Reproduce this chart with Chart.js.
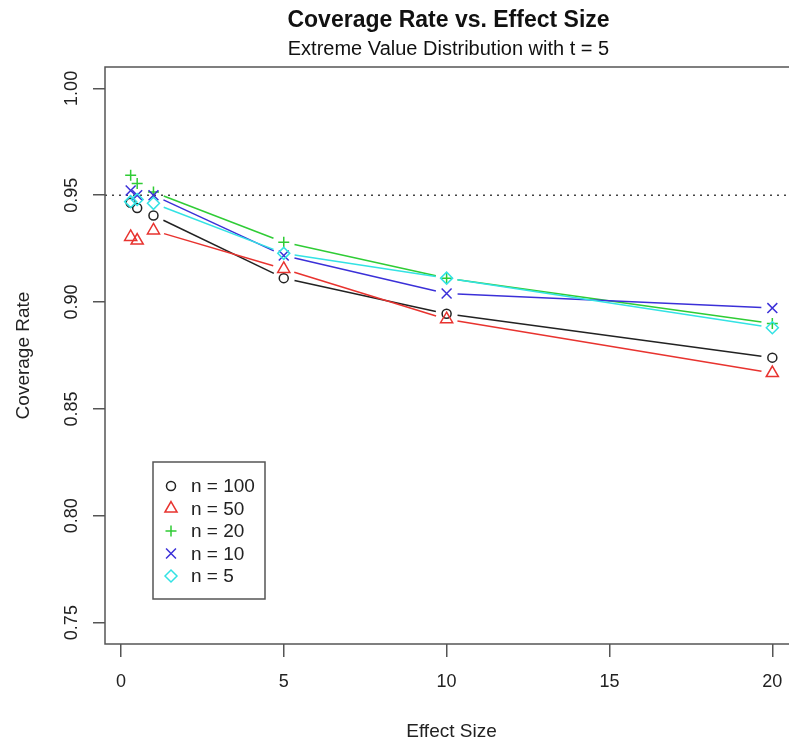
<!DOCTYPE html>
<html>
<head>
<meta charset="utf-8">
<script src="https://cdn.jsdelivr.net/npm/chart.js@4/dist/chart.umd.min.js"></script>
<style>
  html, body { margin: 0; padding: 0; background: #fff; overflow: hidden; }
  #wrap { position: relative; width: 810px; height: 746px; }
</style>
</head>
<body>
<div id="wrap"><canvas id="cov"></canvas></div>
<script>
// effect sizes and coverage rates per sample size
const effectSizes = [0.3, 0.5, 1, 5, 10, 20];
const cov100 = [0.9465, 0.9440, 0.9405, 0.9112, 0.8945, 0.8740];
const cov50  = [0.9305, 0.9288, 0.9335, 0.9155, 0.8920, 0.8668];
const cov20  = [0.9594, 0.9555, 0.9515, 0.9280, 0.9112, 0.8900];
const cov10  = [0.9522, 0.9500, 0.9500, 0.9218, 0.9040, 0.8972];
const cov5   = [0.9470, 0.9480, 0.9462, 0.9228, 0.9112, 0.8880];
const seriesLabels = ['n = 100', 'n = 50', 'n = 20', 'n = 10', 'n = 5'];
const nominal = 0.95;
const yTicks = [0.75, 0.80, 0.85, 0.90, 0.95, 1.00];
const xTicks = [0, 5, 10, 15, 20];

const FONT = '"Liberation Sans", Arial, Helvetica, sans-serif';
const AXIS = '#555';

const styles = [
  { color: '#222222', point: 'circle',   r: 4.5 },
  { color: '#e8332f', point: 'triangle', r: 7 },
  { color: '#2fcc35', point: 'cross',    r: 5.5 },
  { color: '#3b30d8', point: 'crossRot', r: 7 },
  { color: '#33e2e4', point: 'rectRot',  r: 6 }
];
const values = [cov100, cov50, cov20, cov10, cov5];

const datasets = values.map((vals, i) => ({
  label: seriesLabels[i],
  data: effectSizes.map((x, k) => ({ x: x, y: vals[k] })),
  showLine: false,
  borderColor: styles[i].color,
  backgroundColor: 'rgba(0,0,0,0)',
  pointStyle: styles[i].point,
  pointRadius: styles[i].r,
  pointBorderWidth: 1.5,
  pointBorderColor: styles[i].color,
  pointBackgroundColor: 'rgba(0,0,0,0)',
  order: 5 - i
}));

// R-style "b" lines: segments stop short of each point
const gapLines = {
  id: 'gapLines',
  beforeDatasetsDraw(chart) {
    const ctx = chart.ctx;
    const gap = 11;
    ctx.save();
    ctx.lineWidth = 1.5;
    chart.data.datasets.forEach((ds, i) => {
      const pts = chart.getDatasetMeta(i).data;
      ctx.strokeStyle = ds.borderColor;
      for (let k = 0; k < pts.length - 1; k++) {
        const a = pts[k], b = pts[k + 1];
        const dx = b.x - a.x, dy = b.y - a.y;
        const len = Math.hypot(dx, dy);
        if (len <= 2 * gap) continue;
        const ux = dx / len, uy = dy / len;
        ctx.beginPath();
        ctx.moveTo(a.x + ux * gap, a.y + uy * gap);
        ctx.lineTo(b.x - ux * gap, b.y - uy * gap);
        ctx.stroke();
      }
    });
    ctx.restore();
  }
};

// frame, dotted 0.95 reference line, titles, y tick labels and legend
const decorations = {
  id: 'decorations',
  beforeDatasetsDraw(chart) {
    const { ctx, chartArea: a, scales } = chart;
    const y95 = scales.y.getPixelForValue(nominal);
    ctx.save();
    ctx.strokeStyle = '#444';
    ctx.lineWidth = 1.5;
    ctx.setLineDash([2, 5]);
    ctx.beginPath();
    ctx.moveTo(a.left, y95);
    ctx.lineTo(a.right, y95);
    ctx.stroke();
    ctx.restore();
  },
  afterDraw(chart) {
    const { ctx, chartArea: a, scales } = chart;
    ctx.save();
    ctx.strokeStyle = AXIS;
    ctx.lineWidth = 1.5;
    ctx.strokeRect(a.left, a.top, a.right - a.left, a.bottom - a.top);

    const cx = (a.left + a.right) / 2 - 3;
    ctx.fillStyle = '#111';
    ctx.textAlign = 'center';
    ctx.textBaseline = 'alphabetic';
    ctx.font = 'bold 23px ' + FONT;
    ctx.fillText('Coverage Rate vs. Effect Size', cx, 27);
    ctx.font = '20px ' + FONT;
    ctx.fillText('Extreme Value Distribution with t = 5', cx, 55);

    // rotated y tick labels
    ctx.font = '18px ' + FONT;
    ctx.fillStyle = '#222';
    ctx.textBaseline = 'middle';
    scales.y.ticks.forEach(t => {
      const py = scales.y.getPixelForValue(t.value);
      ctx.save();
      ctx.translate(72, py);
      ctx.rotate(-Math.PI / 2);
      ctx.fillText(t.value.toFixed(2), 0, 0);
      ctx.restore();
    });

    // legend box
    const lx = 153, ly = 462, lw = 112, lh = 137;
    ctx.strokeStyle = AXIS;
    ctx.lineWidth = 1.5;
    ctx.strokeRect(lx, ly, lw, lh);
    ctx.font = '19px ' + FONT;
    ctx.textAlign = 'left';
    ctx.textBaseline = 'middle';
    chart.data.datasets.forEach((ds, i) => {
      const ey = ly + 24 + i * 22.5;
      ctx.strokeStyle = ds.borderColor;
      ctx.fillStyle = 'rgba(0,0,0,0)';
      ctx.lineWidth = 1.5;
      Chart.helpers.drawPoint(ctx, { pointStyle: ds.pointStyle, radius: ds.pointRadius, rotation: 0, borderWidth: 1.5 }, lx + 18, ey);
      ctx.fillStyle = '#222';
      ctx.fillText(ds.label, lx + 38, ey + 1);
    });
    ctx.restore();
  }
};

new Chart(document.getElementById('cov'), {
  type: 'scatter',
  data: { datasets: datasets },
  plugins: [gapLines, decorations],
  options: {
    responsive: true,
    maintainAspectRatio: false,
    animation: false,
    events: [],
    layout: { padding: { top: 67, right: 12, left: 0, bottom: 0 } },
    plugins: {
      legend: { display: false },
      tooltip: { enabled: false },
      title: { display: false }
    },
    scales: {
      x: {
        type: 'linear',
        min: -0.488,
        max: 20.788,
        afterBuildTicks: s => { s.ticks = xTicks.map(v => ({ value: v })); },
        afterFit: s => { s.height = 102; },
        border: { display: false },
        grid: { drawOnChartArea: false, drawTicks: true, tickLength: 13, color: AXIS, lineWidth: 1.5 },
        ticks: { color: '#222', font: { family: FONT, size: 18 }, padding: 14, maxRotation: 0 },
        title: { display: true, text: 'Effect Size', color: '#222', font: { family: FONT, size: 19 }, padding: { top: 3, bottom: 3 } }
      },
      y: {
        type: 'linear',
        min: 0.74,
        max: 1.01,
        afterBuildTicks: s => { s.ticks = yTicks.map(v => ({ value: v })); },
        afterFit: s => { s.width = 105; },
        border: { display: false },
        grid: { drawOnChartArea: false, drawTicks: true, tickLength: 12, color: AXIS, lineWidth: 1.5 },
        ticks: { display: false },
        title: { display: true, text: 'Coverage Rate', color: '#222', font: { family: FONT, size: 19 }, padding: { top: 12, bottom: 0 } }
      }
    }
  }
});
</script>
</body>
</html>
